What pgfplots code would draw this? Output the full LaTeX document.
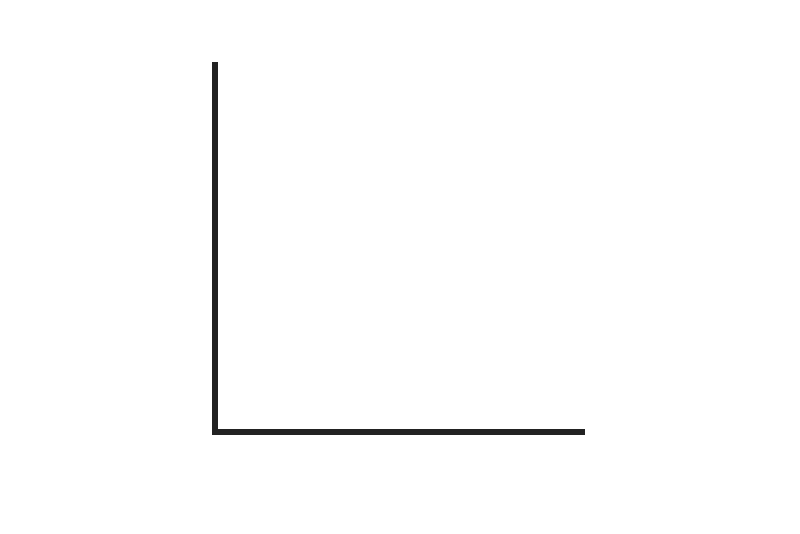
\documentclass[border=0pt]{standalone}
\usepackage{pgfplots}
\pgfplotsset{compat=1.18}
\definecolor{axisgray}{RGB}{34,34,34}
\begin{document}
\begin{tikzpicture}
  % page frame, 1px = 0.01cm
  \path[use as bounding box] (0,0) rectangle (8,5.33);
  \begin{axis}[
    at={(2.15cm,1.01cm)}, anchor=south west,
    scale only axis, width=3.67cm, height=3.67cm,
    xmin=0, xmax=1, ymin=0, ymax=1,
    axis x line*=bottom, axis y line*=left,
    axis line style={-, line width=0.06cm, line cap=rect, color=axisgray},
    xtick=\empty, ytick=\empty,
  ]
  \end{axis}
\end{tikzpicture}
\end{document}
